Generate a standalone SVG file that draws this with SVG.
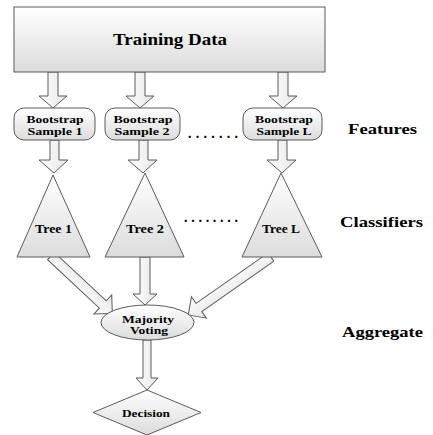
<svg xmlns="http://www.w3.org/2000/svg" width="433" height="435" viewBox="0 0 433 435" font-family="'Liberation Serif', 'DejaVu Serif', 'Times New Roman', serif" font-weight="bold">
<defs>
<linearGradient id="g" x1="0" y1="0" x2="0" y2="1">
<stop offset="0" stop-color="#ffffff"/>
<stop offset="1" stop-color="#dcdcdc"/>
</linearGradient>
<linearGradient id="ga" x1="0" y1="0" x2="1" y2="0">
<stop offset="0" stop-color="#ffffff"/>
<stop offset="1" stop-color="#e6e6e6"/>
</linearGradient>
</defs>
<style>
.n{fill:url(#g);stroke:#5a5a5a;stroke-width:1}
.a{fill:url(#ga);stroke:#5a5a5a;stroke-width:1;stroke-linejoin:miter}
text{font-family:'Liberation Serif','DejaVu Serif',serif;font-weight:700;fill:#000}
.t{text-anchor:middle}
</style>
<rect width="433" height="435" fill="#fff"/>
<g id="connectors">
<path class="a" d="M48,72 H58 V96 H67 L53,108 L39,96 H48 Z"/>
<path class="a" d="M135,72 H145 V96 H154 L140,108 L126,96 H135 Z"/>
<path class="a" d="M278,72 H288 V96 H297 L283,108 L269,96 H278 Z"/>
<path class="a" d="M50,140 H59 V160 H68 L54,173 L39,160 H50 Z"/>
<path class="a" d="M139,140 H148 V160 H157 L143,173 L128,160 H139 Z"/>
<path class="a" d="M278,140 H287 V160 H296 L282,173 L267,160 H278 Z"/>
<path class="a" d="M140,257 H150 V294 H157 L145,305 L133,294 H140 Z"/>
<path class="a" d="M143,340 H151 V378 H158 L147,390 L136,378 H143 Z"/>
<path class="a" transform="translate(51,256) rotate(-46.9)" d="M-5,0 H5 V71 H13 L0,84 L-13,71 H-5 Z"/>
<path class="a" transform="translate(271,257) rotate(55)" d="M-5,0 H5 V88 H13 L0,101 L-13,88 H-5 Z"/>
</g>
<g id="training-data">
<rect class="n" x="14" y="7" width="311" height="65"/>
<text class="t" x="170" y="45" font-size="16" textLength="114" lengthAdjust="spacingAndGlyphs">Training Data</text>
</g>
<g id="bootstrap-1">
<rect class="n" x="14" y="108" width="81" height="32" rx="10"/>
<text class="t" x="55" y="122.5" font-size="11" textLength="57" lengthAdjust="spacingAndGlyphs">Bootstrap</text>
<text class="t" x="55" y="135" font-size="11" textLength="55" lengthAdjust="spacingAndGlyphs">Sample 1</text>
</g>
<g id="bootstrap-2">
<rect class="n" x="105" y="108" width="75" height="32" rx="10"/>
<text class="t" x="143" y="122.5" font-size="11" textLength="59" lengthAdjust="spacingAndGlyphs">Bootstrap</text>
<text class="t" x="142" y="135" font-size="11" textLength="55" lengthAdjust="spacingAndGlyphs">Sample 2</text>
</g>
<g id="bootstrap-l">
<rect class="n" x="243" y="108" width="79" height="32" rx="10"/>
<text class="t" x="284" y="122.5" font-size="11" textLength="58" lengthAdjust="spacingAndGlyphs">Bootstrap</text>
<text class="t" x="284" y="135" font-size="11" textLength="55" lengthAdjust="spacingAndGlyphs">Sample L</text>
</g>
<g id="dots-1">
<text x="188" y="138" font-size="14" textLength="50" lengthAdjust="spacing">.......</text>
</g>
<g id="features">
<text x="348" y="134" font-size="15" textLength="69" lengthAdjust="spacingAndGlyphs">Features</text>
</g>
<g id="tree-1">
<polygon class="n" points="53,175 90,257 17,257"/>
<text class="t" x="53.5" y="233" font-size="12" textLength="37" lengthAdjust="spacingAndGlyphs">Tree 1</text>
</g>
<g id="tree-2">
<polygon class="n" points="145,173 184,257 105,257"/>
<text class="t" x="145" y="233" font-size="12" textLength="38" lengthAdjust="spacingAndGlyphs">Tree 2</text>
</g>
<g id="tree-l">
<polygon class="n" points="281,173 322,257 242,257"/>
<text class="t" x="281" y="233" font-size="12" textLength="38" lengthAdjust="spacingAndGlyphs">Tree L</text>
</g>
<g id="dots-2">
<text x="184" y="222" font-size="14" textLength="54" lengthAdjust="spacing">........</text>
</g>
<g id="classifiers">
<text x="340" y="227" font-size="15" textLength="83" lengthAdjust="spacingAndGlyphs">Classifiers</text>
</g>
<g id="majority-voting">
<ellipse class="n" cx="147.5" cy="322.5" rx="46.5" ry="17.5"/>
<text class="t" x="148" y="323" font-size="11" textLength="52" lengthAdjust="spacingAndGlyphs">Majority</text>
<text class="t" x="149" y="334" font-size="11" textLength="38" lengthAdjust="spacingAndGlyphs">Voting</text>
</g>
<g id="aggregate">
<text x="342" y="337" font-size="15" textLength="81" lengthAdjust="spacingAndGlyphs">Aggregate</text>
</g>
<g id="decision">
<polygon class="n" points="147,390 201,412.5 147,435 93,412.5"/>
<text class="t" x="146" y="417" font-size="11" textLength="48" lengthAdjust="spacingAndGlyphs">Decision</text>
</g>
</svg>
